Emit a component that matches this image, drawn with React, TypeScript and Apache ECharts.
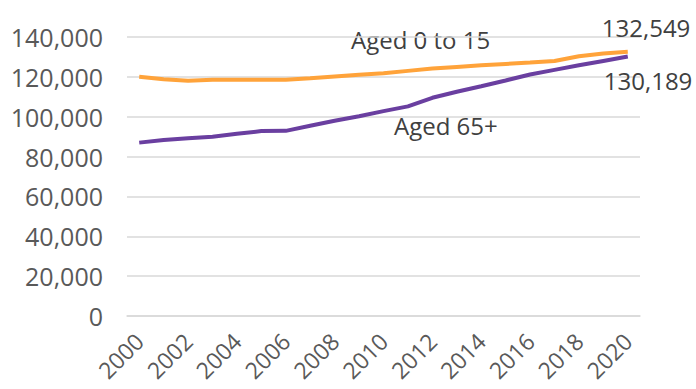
import React, { useEffect, useRef } from "react";
import * as echarts from "echarts";

const years = [
  "2000", "2001", "2002", "2003", "2004", "2005", "2006", "2007", "2008", "2009", "2010",
  "2011", "2012", "2013", "2014", "2015", "2016", "2017", "2018", "2019", "2020",
];

const aged0to15 = [
  120000, 118800, 118000, 118500, 118600, 118600, 118600, 119300, 120200, 121000, 121800,
  123000, 124200, 125000, 125800, 126500, 127200, 128000, 130300, 131700, 132549,
];

const aged65plus = [
  87000, 88300, 89200, 90000, 91400, 92800, 92900, 95500, 98000, 100200, 102800,
  105200, 109500, 112500, 115300, 118200, 121200, 123500, 125800, 128000, 130189,
];

const yTicks = [0, 20000, 40000, 60000, 80000, 100000, 120000, 140000];

const FONT = "'Open Sans', sans-serif";
const fmt = (v: number) => v.toLocaleString("en-US");

function endLabel(offset: number[]) {
  return {
    show: true,
    offset,
    formatter: (p: any) => fmt(p.value as number),
    fontFamily: FONT,
    fontSize: 24,
    color: "#404040",
  };
}

export default function App() {
  const ref = useRef<HTMLDivElement>(null);

  useEffect(() => {
    if (!ref.current) return;
    const chart = echarts.init(ref.current, undefined, { renderer: "svg" });
    chart.setOption({
      animation: false,
      grid: { left: 127, right: 56, top: 37, bottom: 73 },
      xAxis: {
        type: "category",
        data: years,
        boundaryGap: true,
        axisLine: { show: true, lineStyle: { color: "#d9d9d9", width: 1.5 } },
        axisTick: { show: false },
        axisLabel: {
          interval: 1,
          rotate: 45,
          fontFamily: FONT,
          fontSize: 23,
          color: "#595959",
          margin: 21,
        },
      },
      yAxis: {
        type: "value",
        min: yTicks[0],
        max: yTicks[yTicks.length - 1],
        interval: 20000,
        axisLine: { show: false },
        axisTick: { show: false },
        splitLine: { lineStyle: { color: "#d9d9d9", width: 1.5 } },
        axisLabel: {
          fontFamily: FONT,
          fontSize: 25,
          color: "#595959",
          margin: 24,
          formatter: (v: number) => fmt(v),
        },
      },
      series: [
        {
          name: "Aged 0 to 15",
          type: "line",
          data: aged0to15,
          showSymbol: false,
          symbol: "none",
          lineStyle: { color: "#FFA33A", width: 4 },
          itemStyle: { color: "#FFA33A" },
          endLabel: endLabel([-34, -24]),
        },
        {
          name: "Aged 65+",
          type: "line",
          data: aged65plus,
          showSymbol: false,
          symbol: "none",
          lineStyle: { color: "#6A3FA0", width: 4 },
          itemStyle: { color: "#6A3FA0" },
          endLabel: endLabel([-32, 24]),
        },
      ],
      graphic: [
        {
          type: "text",
          left: 351,
          top: 27,
          style: { text: "Aged 0 to 15", font: `24px ${FONT}`, fill: "#404040" },
        },
        {
          type: "text",
          left: 394,
          top: 113,
          style: { text: "Aged 65+", font: `24px ${FONT}`, fill: "#404040" },
        },
      ],
    });
    return () => chart.dispose();
  }, []);

  return <div ref={ref} style={{ width: 696, height: 389, position: "absolute", left: 0, top: 0 }} />;
}
